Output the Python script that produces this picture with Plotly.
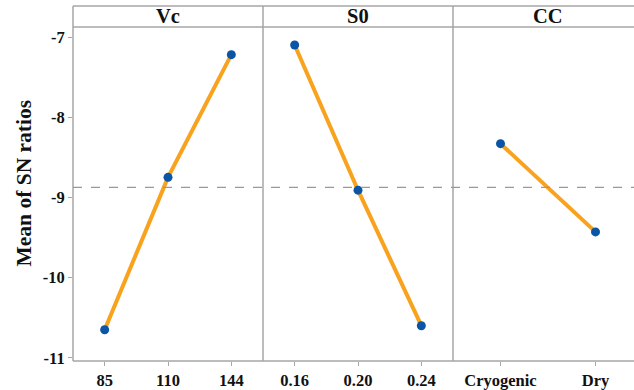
import plotly.graph_objects as go

# Main effects of each factor on the mean SN ratio
factors = ["Vc", "S0", "CC"]
vc_levels = ["85", "110", "144"]
vc_means = [-10.65, -8.75, -7.22]
s0_levels = ["0.16", "0.20", "0.24"]
s0_means = [-7.10, -8.91, -10.60]
cc_levels = ["Cryogenic", "Dry"]
cc_means = [-8.33, -9.43]

y_ticks = [-7, -8, -9, -10, -11]
y_range = [-11.04, -6.875]
y_title = "Mean of SN ratios"

W, H = 634, 390
L, T, B = 73, 27, 29
panel_px = 190
plot_w = W - L
plot_h = H - T - B

LINE_COLOR = "#F8A21E"
DOT_COLOR = "#0A55A6"
FRAME = "#A6A6A6"
FONT = "Liberation Serif"

all_means = vc_means + s0_means + cc_means
grand_mean = sum(all_means) / len(all_means)

series = [(vc_levels, vc_means), (s0_levels, s0_means), (cc_levels, cc_means)]
axis_keys = ["xaxis", "xaxis2", "xaxis3"]

fig = go.Figure()
domains = []
for i, (lv, mv) in enumerate(series):
    x0 = i * panel_px / plot_w
    x1 = min((i + 1) * panel_px / plot_w, 1.0)
    domains.append((x0, x1))
    ax = "" if i == 0 else str(i + 1)
    fig.add_trace(go.Scatter(
        x=lv, y=mv, mode="lines+markers",
        line=dict(color=LINE_COLOR, width=4),
        marker=dict(color=DOT_COLOR, size=9),
        xaxis="x" + ax, yaxis="y", showlegend=False, hoverinfo="x+y",
    ))

tickfont = dict(family=FONT, size=16.5, color="#111111")
layout = dict(
    width=W, height=H,
    margin=dict(l=L, r=0, t=T, b=B),
    plot_bgcolor="white", paper_bgcolor="white",
    yaxis=dict(
        range=y_range, tickvals=y_ticks,
        ticktext=["<b>%s</b>" % v for v in y_ticks],
        ticks="outside", ticklen=4, tickcolor=FRAME, tickwidth=1,
        showgrid=False, zeroline=False, showline=False,
        tickfont=tickfont,
    ),
)
for i, (lv, mv) in enumerate(series):
    n = len(lv)
    x0, x1 = domains[i]
    units = (x1 - x0) * plot_w / (panel_px / n)
    layout[axis_keys[i]] = dict(
        domain=[x0, x1], type="category",
        range=[-0.5, -0.5 + units],
        tickvals=lv, ticktext=["<b>%s</b>" % s for s in lv],
        ticks="outside", ticklen=4, tickcolor=FRAME, tickwidth=1,
        showgrid=False, zeroline=False, showline=False,
        tickfont=tickfont, anchor="y",
    )
fig.update_layout(**layout)

top = 1 + (T - 6) / plot_h
frame_line = dict(color=FRAME, width=1.5)
shapes = [
    # header strip and axis lines
    dict(type="line", xref="paper", yref="paper", x0=0, x1=1, y0=top, y1=top, line=frame_line),
    dict(type="line", xref="paper", yref="paper", x0=0, x1=1, y0=1, y1=1, line=frame_line),
    dict(type="line", xref="paper", yref="paper", x0=0, x1=0, y0=0, y1=top, line=frame_line),
    dict(type="line", xref="paper", yref="paper", x0=0, x1=1, y0=0, y1=0, line=frame_line),
]
for i in range(1, 3):
    xd = domains[i][0]
    shapes.append(dict(type="line", xref="paper", yref="paper", x0=xd, x1=xd, y0=0, y1=top,
                       line=frame_line))
# grand mean reference line
shapes.append(dict(type="line", xref="paper", yref="y", x0=0, x1=1,
                   y0=grand_mean, y1=grand_mean,
                   line=dict(color="#999999", width=1.2, dash="dash")))
fig.update_layout(shapes=shapes)

annotations = []
for i, name in enumerate(factors):
    xc = domains[i][0] + (panel_px / plot_w) / 2
    annotations.append(dict(
        text="<b>%s</b>" % name, x=xc, y=(1 + top) / 2, xref="paper", yref="paper",
        showarrow=False, xanchor="center", yanchor="middle",
        font=dict(family=FONT, size=20.5, color="#111111"),
    ))
# y-axis title, centred on the whole frame including the header strip
annotations.append(dict(
    text="<b>%s</b>" % y_title, textangle=-90,
    x=(23 - L) / plot_w, y=top / 2, xref="paper", yref="paper",
    showarrow=False, xanchor="center", yanchor="middle",
    font=dict(family=FONT, size=21.5, color="#111111"),
))
fig.update_layout(annotations=annotations)

fig.write_html("out.html")
